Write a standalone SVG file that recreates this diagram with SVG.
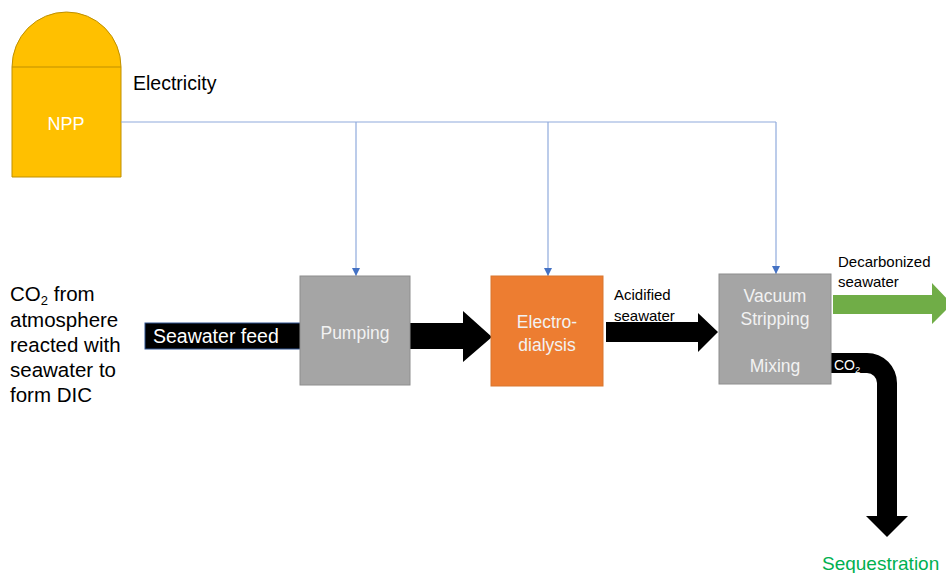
<svg xmlns="http://www.w3.org/2000/svg" width="946" height="573" viewBox="0 0 946 573">
  <style>
    text { font-family: "Liberation Sans", Arial, sans-serif; }
    .lbl { fill: #000000; }
    .inbox { fill: #F2F2F2; text-anchor: middle; font-size: 17.5px; }
    .power { fill: none; stroke: #8FAADC; stroke-width: 1.2; }
    .gray { fill: #A5A5A5; stroke: #8E8E8E; stroke-width: 1; }
  </style>
  <defs>
    <marker id="tip" viewBox="0 0 8 8" refX="8" refY="4" markerWidth="8" markerHeight="8" markerUnits="userSpaceOnUse" orient="auto">
      <path d="M0,0 L8,4 L0,8 Z" fill="#4472C4"/>
    </marker>
  </defs>

  <rect width="946" height="573" fill="#FFFFFF"/>

  <!-- power plant -->
  <g id="npp">
    <path d="M12,177 V67 A54.5,55 0 0 1 121,67 V177 Z" fill="#FFC000" stroke="#BF9000" stroke-width="1"/>
    <line x1="12" y1="67" x2="121" y2="67" stroke="#BF9000" stroke-width="1"/>
    <text x="66" y="130" text-anchor="middle" font-size="18" fill="#FFFFFF">NPP</text>
  </g>

  <text class="lbl" x="133" y="90" font-size="19.5">Electricity</text>

  <!-- connectors -->
  <g id="connectors">
    <path class="power" d="M121,122 H776"/>
    <path class="power" d="M356,122 V276" marker-end="url(#tip)"/>
    <path class="power" d="M548,122 V276" marker-end="url(#tip)"/>
    <path class="power" d="M776,122 V274" marker-end="url(#tip)"/>

    <!-- pumping to electrodialysis -->
    <polygon points="410,323 463,323 463,311 492,337 463,362 463,349 410,349" fill="#000000"/>
    <!-- acidified seawater -->
    <polygon points="606,322 698,322 698,313 718,332 698,352 698,342 606,342" fill="#000000"/>
    <!-- decarbonized seawater -->
    <polygon points="833,295 932,295 932,283 952,304 932,324 932,314 833,314" fill="#70AD47"/>
    <!-- CO2 to sequestration -->
    <path d="M831,353 H867 A30,30 0 0 1 897,383 V516 H908 L887,537 L866,516 H877 V383 A10,10 0 0 0 867,373 H831 Z" fill="#000000"/>
  </g>

  <g id="feed">
    <rect x="145" y="323" width="156" height="26" fill="#000000" stroke="#2F528F" stroke-width="1"/>
    <text x="153" y="343" font-size="19.5" fill="#FFFFFF">Seawater feed</text>
  </g>

  <g id="pumping">
    <rect class="gray" x="300" y="276" width="110" height="109"/>
    <text class="inbox" x="355" y="339" font-size="19">Pumping</text>
  </g>

  <g id="electrodialysis">
    <rect x="491" y="276" width="112" height="110" fill="#ED7D31" stroke="#D9772F" stroke-width="1"/>
    <text class="inbox" x="547" y="328">Electro-</text>
    <text class="inbox" x="547" y="351">dialysis</text>
  </g>

  <g id="stripping">
    <rect class="gray" x="719" y="274" width="112" height="110"/>
    <text class="inbox" x="775" y="302">Vacuum</text>
    <text class="inbox" x="775" y="325">Stripping</text>
    <text class="inbox" x="775" y="372">Mixing</text>
  </g>

  <text class="lbl" x="614" y="300" font-size="15">Acidified</text>
  <text class="lbl" x="614" y="321" font-size="15">seawater</text>
  <text class="lbl" x="838" y="267" font-size="15">Decarbonized</text>
  <text class="lbl" x="838" y="287" font-size="15">seawater</text>
  <text x="834" y="370" font-size="14" fill="#FFFFFF">CO<tspan font-size="9.5" dy="3">2</tspan></text>

  <text x="822" y="570" font-size="19" fill="#00B050">Sequestration</text>

  <g class="lbl" font-size="20.5">
    <text x="10" y="301">CO<tspan font-size="13" dy="4">2</tspan><tspan dy="-4"> from</tspan></text>
    <text x="10" y="327">atmosphere</text>
    <text x="10" y="352">reacted with</text>
    <text x="10" y="377">seawater to</text>
    <text x="10" y="402">form DIC</text>
  </g>
</svg>
